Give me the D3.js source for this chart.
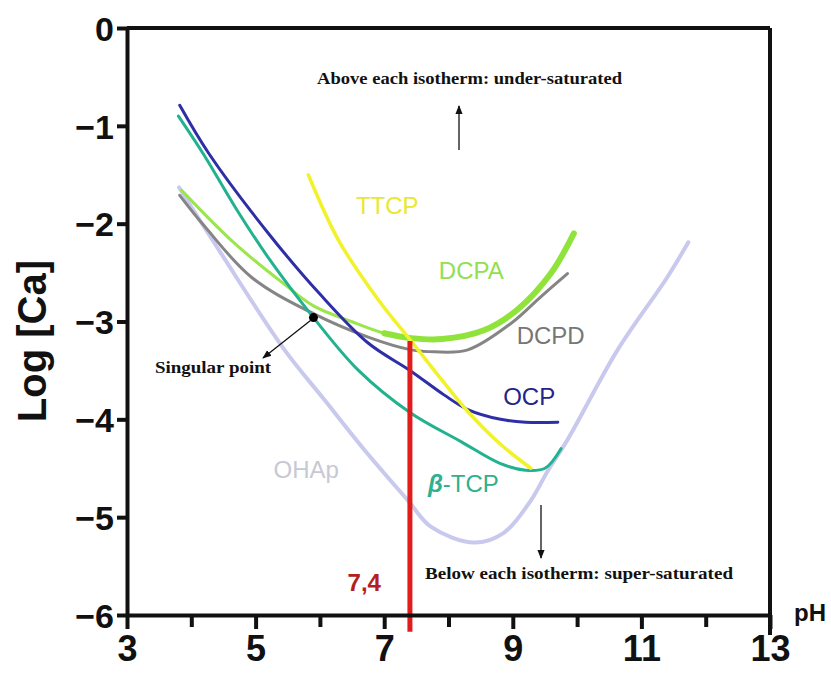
<!DOCTYPE html>
<html>
<head>
<meta charset="utf-8">
<script src="https://cdn.jsdelivr.net/npm/d3@7"></script>
<style>
  html, body { margin: 0; padding: 0; background: #fff; }
  svg { display: block; }
</style>
</head>
<body>
<svg id="chart" width="831" height="682"></svg>
<script>
// ---- Data (pH vs Log[Ca]) ----
const xTicks = [3, 5, 7, 9, 11, 13];
const xMinorTicks = [4, 6, 8, 10, 12];
const yTicks = [0, -1, -2, -3, -4, -5, -6];

const ohapPH   = [3.81, 4.43, 5.45, 6.07, 6.69, 7.37, 7.73, 8.40, 8.86, 9.28, 9.55, 9.85, 10.63, 11.40, 11.73];
const ohapLog  = [-1.63, -2.27, -3.29, -3.80, -4.31, -4.83, -5.10, -5.26, -5.16, -4.83, -4.52, -4.21, -3.29, -2.55, -2.19];

const btcpPH   = [3.80, 4.20, 4.70, 5.20, 5.90, 6.60, 7.40, 8.20, 8.80, 9.20, 9.50, 9.75];
const btcpLog  = [-0.90, -1.30, -1.85, -2.35, -2.96, -3.50, -3.93, -4.23, -4.45, -4.52, -4.50, -4.30];

const ocpPH    = [3.82, 4.27, 5.20, 6.00, 6.75, 7.40, 7.93, 8.30, 8.81, 9.20, 9.70];
const ocpLog   = [-0.79, -1.28, -2.10, -2.72, -3.22, -3.50, -3.75, -3.90, -4.00, -4.03, -4.03];

const dcpaPH   = [3.85, 4.67, 5.45, 5.90, 6.49, 7.00, 7.42, 7.90, 8.55, 9.07, 9.59, 9.95];
const dcpaLog  = [-1.66, -2.20, -2.62, -2.84, -3.00, -3.12, -3.17, -3.18, -3.09, -2.88, -2.51, -2.10];

const dcpdPH   = [3.82, 4.21, 4.94, 5.87, 6.75, 7.42, 7.78, 8.30, 8.97, 9.43, 9.85];
const dcpdLog  = [-1.71, -2.03, -2.55, -2.91, -3.16, -3.29, -3.31, -3.29, -3.02, -2.75, -2.51];

const ttcpPH   = [5.82, 6.29, 6.91, 7.42, 7.90, 8.30, 8.80, 9.28];
const ttcpLog  = [-1.50, -2.17, -2.78, -3.20, -3.60, -3.92, -4.25, -4.50];

const physPH = 7.4;             // physiological pH marker
const physLog = [-3.2, -6.17];
const singularPH = 5.9, singularLog = -2.96;

// ---- Scales ----
const svg = d3.select("#chart");
const x = d3.scaleLinear().domain([3, 13]).range([127, 770]);
const y = d3.scaleLinear().domain([0, -6]).range([28, 615]);

const zip = (a, b) => a.map((v, i) => [v, b[i]]);
const line = d3.line().x(d => x(d[0])).y(d => y(d[1])).curve(d3.curveCatmullRom.alpha(0.5));

// ---- Curves ----
const curves = [
  { pts: zip(ohapPH, ohapLog), color: "#c9c9ee", w: 4 },
  { pts: zip(dcpdPH, dcpdLog), color: "#858585", w: 3 },
  { pts: zip(dcpaPH, dcpaLog), color: "#9be64a", w: 3 },
  { pts: zip(dcpaPH, dcpaLog).filter(d => d[0] >= 7.0), color: "#8fe33a", w: 6 },
  { pts: zip(btcpPH, btcpLog), color: "#22b28f", w: 3 },
  { pts: zip(ocpPH, ocpLog), color: "#2e2ea6", w: 3 },
  { pts: zip(ttcpPH, ttcpLog), color: "#f2f22a", w: 3.5 }
];
svg.append("g").selectAll("path").data(curves).join("path")
  .attr("d", d => line(d.pts))
  .attr("fill", "none")
  .attr("stroke", d => d.color)
  .attr("stroke-width", d => d.w)
  .attr("stroke-linecap", "round");

// red pH 7.4 line
svg.append("line")
  .attr("x1", x(physPH)).attr("x2", x(physPH))
  .attr("y1", y(physLog[0])).attr("y2", y(physLog[1]))
  .attr("stroke", "#e21b1b").attr("stroke-width", 5);

// ---- Axes ----
const axisFont = "'Liberation Sans', Arial, sans-serif";
const gx = svg.append("g").attr("transform", `translate(0,${y(-6)})`)
  .call(d3.axisBottom(x).tickValues(xTicks).tickSize(14).tickPadding(6).tickSizeOuter(0).tickFormat(d3.format("d")));
svg.append("g").attr("transform", `translate(0,${y(-6)})`)
  .call(d3.axisBottom(x).tickValues(xMinorTicks).tickSize(12).tickFormat(""))
  .call(g => g.select(".domain").remove());
const gy = svg.append("g").attr("transform", `translate(${x(3)},0)`)
  .call(d3.axisLeft(y).tickValues(yTicks).tickSize(10).tickPadding(3).tickSizeOuter(0).tickFormat(d3.format("d")));

svg.selectAll(".domain, .tick line").attr("stroke", "#111").attr("stroke-width", 4);
gx.selectAll("text").attr("font-family", axisFont).attr("font-weight", "bold")
  .attr("font-size", 36).attr("fill", "#111");
gy.selectAll("text").attr("font-family", axisFont).attr("font-weight", "bold")
  .attr("font-size", 34).attr("fill", "#111").attr("dy", "0.36em");

// frame: top and right
svg.append("line").attr("x1", x(3)).attr("x2", x(13)).attr("y1", y(0)).attr("y2", y(0))
  .attr("stroke", "#111").attr("stroke-width", 4);
svg.append("line").attr("x1", x(13)).attr("x2", x(13)).attr("y1", y(0)).attr("y2", y(-6) + 20)
  .attr("stroke", "#111").attr("stroke-width", 4);

// axis titles
svg.append("text").attr("transform", `translate(46,${y(-3.2)}) rotate(-90)`)
  .attr("text-anchor", "middle").attr("font-family", axisFont).attr("font-weight", "bold")
  .attr("font-size", 40).attr("fill", "#111").text("Log [Ca]");
svg.append("text").attr("x", 794).attr("y", y(-6) + 6)
  .attr("font-family", axisFont).attr("font-weight", "bold")
  .attr("font-size", 24).attr("fill", "#111").text("pH");

// ---- Curve labels ----
const labelFont = "'Liberation Sans', Arial, sans-serif";
const labels = [
  { t: "TTCP", px: 6.56, ly: -1.9,  c: "#e8e832" },
  { t: "DCPA", px: 7.85, ly: -2.57, c: "#92e04e" },
  { t: "DCPD", px: 9.06, ly: -3.23, c: "#767676" },
  { t: "OCP",  px: 8.85, ly: -3.85, c: "#24248a" },
  { t: "OHAp", px: 5.28, ly: -4.6,  c: "#c8c8d4" }
];
svg.append("g").selectAll("text").data(labels).join("text")
  .attr("x", d => x(d.px)).attr("y", d => y(d.ly))
  .attr("font-family", labelFont).attr("font-size", 24)
  .attr("fill", d => d.c).text(d => d.t);

const bt = svg.append("text").attr("x", x(7.68)).attr("y", y(-4.745))
  .attr("font-family", labelFont).attr("font-size", 24).attr("fill", "#2fb08e");
bt.append("tspan").attr("font-style", "italic").attr("font-weight", "bold").text("β");
bt.append("tspan").text("-TCP");

svg.append("text").attr("x", x(6.43)).attr("y", y(-5.75))
  .attr("font-family", labelFont).attr("font-weight", "bold").attr("font-size", 24)
  .attr("fill", "#b3201f").text("7,4");

// ---- Annotations ----
const defs = svg.append("defs");
defs.append("marker").attr("id", "ah").attr("viewBox", "0 0 10 10")
  .attr("refX", 9).attr("refY", 5).attr("markerWidth", 9).attr("markerHeight", 9)
  .attr("markerUnits", "userSpaceOnUse").attr("orient", "auto")
  .append("path").attr("d", "M0,1 L10,5 L0,9 Z").attr("fill", "#111");

const serif = "'Liberation Serif', 'DejaVu Serif', serif";
svg.append("text").attr("x", 317).attr("y", 84)
  .attr("font-family", serif).attr("font-weight", "bold").attr("font-size", 17.5)
  .attr("textLength", 305).attr("lengthAdjust", "spacingAndGlyphs")
  .attr("fill", "#111").text("Above each isotherm: under-saturated");
svg.append("line").attr("x1", 459).attr("x2", 459).attr("y1", 150).attr("y2", 106)
  .attr("stroke", "#111").attr("stroke-width", 1.3).attr("marker-end", "url(#ah)");

svg.append("text").attr("x", 425).attr("y", 579)
  .attr("font-family", serif).attr("font-weight", "bold").attr("font-size", 17.5)
  .attr("textLength", 308).attr("lengthAdjust", "spacingAndGlyphs")
  .attr("fill", "#111").text("Below each isotherm: super-saturated");
svg.append("line").attr("x1", 541).attr("x2", 541).attr("y1", 505).attr("y2", 558)
  .attr("stroke", "#111").attr("stroke-width", 1.3).attr("marker-end", "url(#ah)");

// singular point
svg.append("circle").attr("cx", x(singularPH)).attr("cy", y(singularLog)).attr("r", 4.5).attr("fill", "#000");
svg.append("line").attr("x1", x(singularPH) - 3).attr("y1", y(singularLog) + 3)
  .attr("x2", 263).attr("y2", 358)
  .attr("stroke", "#111").attr("stroke-width", 1.3).attr("marker-end", "url(#ah)");
svg.append("text").attr("x", 155).attr("y", 373)
  .attr("font-family", serif).attr("font-weight", "bold").attr("font-size", 17.5)
  .attr("textLength", 116).attr("lengthAdjust", "spacingAndGlyphs")
  .attr("fill", "#111").text("Singular point");
</script>
</body>
</html>
